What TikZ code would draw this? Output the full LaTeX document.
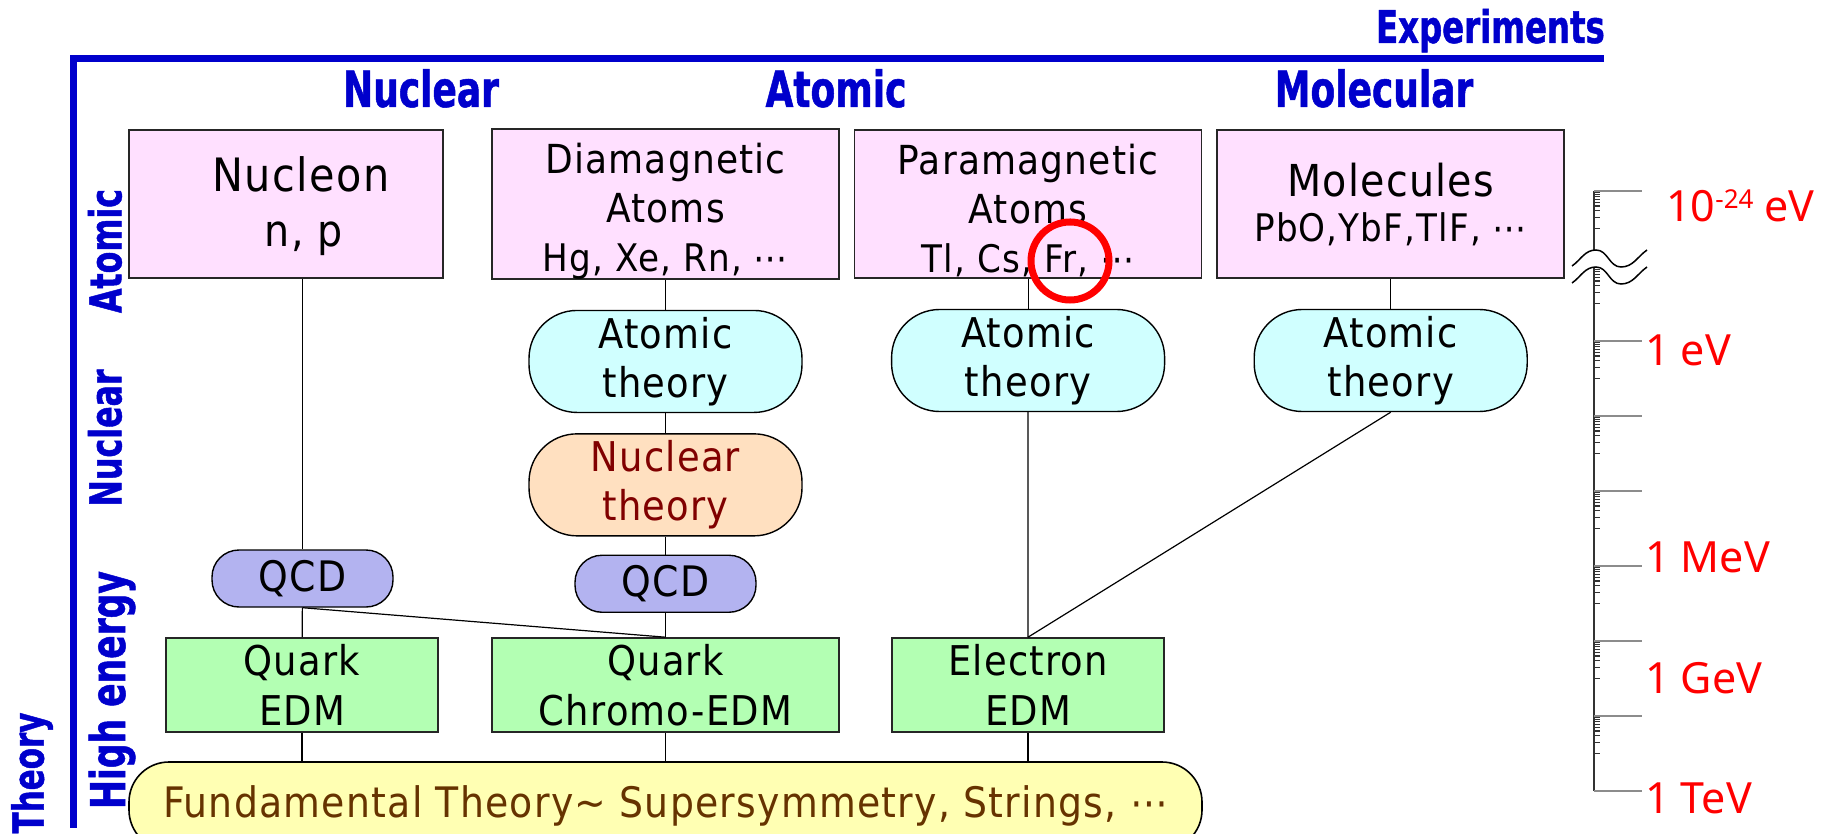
\documentclass[tikz,border=0pt]{standalone}
\usepackage{fontspec}
\setmainfont{DejaVu Sans Condensed}[LetterSpace=3]
\newfontfamily\headfont{DejaVu Sans Condensed Bold}[FakeStretch=0.8,FakeBold=1]
\newfontfamily\evfont{Noto Sans}
\usetikzlibrary{positioning}

\definecolor{pinkfill}{RGB}{255,224,255}
\definecolor{cyanfill}{RGB}{208,255,255}
\definecolor{peachfill}{RGB}{255,224,192}
\definecolor{qcdfill}{RGB}{179,179,240}
\definecolor{greenfill}{RGB}{179,255,179}
\definecolor{yellowfill}{RGB}{255,255,179}
\definecolor{headblue}{RGB}{0,0,204}
\definecolor{nucred}{RGB}{128,0,0}
\definecolor{fundbrown}{RGB}{102,51,0}

\begin{document}
\begin{tikzpicture}[
  x=1pt, y=-1pt,
  atombox/.style={rectangle, draw=black!85, line width=1.6pt, fill=pinkfill,
    minimum height=148pt, inner sep=0pt, align=center},
  theorybox/.style={rectangle, draw, line width=1.4pt, rounded corners=48pt,
    minimum width=273pt, minimum height=102pt, inner sep=0pt, align=center,
    font=\fontsize{41}{49}\selectfont},
  qcdbox/.style={rectangle, draw, line width=1.4pt, rounded corners=27pt, fill=qcdfill,
    minimum width=181pt, minimum height=57pt, inner sep=0pt,
    font=\fontsize{42}{50}\selectfont},
  edmbox/.style={rectangle, draw=black!85, line width=1.6pt, fill=greenfill,
    minimum height=94pt, inner sep=0pt, align=center,
    font=\fontsize{41}{50}\selectfont},
  fundbox/.style={rectangle, draw, line width=1.6pt, rounded corners=40pt, fill=yellowfill,
    minimum width=1073pt, minimum height=88pt, inner sep=0pt, text=fundbrown,
    font=\fontsize{42}{50}\selectfont},
  head/.style={text=headblue, inner sep=0pt, font=\headfont\fontsize{50}{50}\selectfont},
  side/.style={head, rotate=90, font=\headfont\fontsize{44}{44}\selectfont},
  evlabel/.style={text=red, inner sep=0pt, anchor=base west,
    font=\evfont\fontsize{43}{43}\selectfont},
  link/.style={line width=1.2pt},
  axisline/.style={line width=2pt, black!80},
  majortick/.style={line width=1.5pt, black!45},
  minortick/.style={line width=1.3pt, black!80}
]
\clip (0,0) rectangle (1823,834);

\draw[headblue, line width=6.5pt] (1604,58.5) -- (73.5,58.5) -- (73.5,828);
\node[head, anchor=base east, font=\headfont\fontsize{45}{45}\selectfont] (hexp) at (1605,43) {Experiments};
\node[head, anchor=base] (hnuc) at (421,107) {Nuclear};
\node[head, anchor=base] (hatom) at (836,107) {Atomic};
\node[head, anchor=base] (hmol) at (1374,107) {Molecular};

\node[side] (satom) at (105,251) {Atomic};
\node[side] (snuc) at (105,438) {Nuclear};
\node[side, font=\headfont\fontsize{48}{48}\selectfont] (shigh) at (112,690) {High energy};
\node[side, font=\headfont\fontsize{43}{43}\selectfont] (stheory) at (32,773) {Theory};

\node[atombox, minimum width=314pt, font=\fontsize{46}{55}\selectfont] (nucleon) at (286,204) {\rule{0pt}{40pt}\hspace*{30pt}Nucleon\\{\fontsize{44}{55}\selectfont\hspace*{36pt}n, p}};
\node[atombox, minimum width=347pt, font=\fontsize{40}{49}\selectfont] (dia) at (665.5,204) {\rule{0pt}{44pt}Diamagnetic\\Atoms\\{\fontsize{38}{49}\selectfont Hg, Xe, Rn, ⋯}};
\node[atombox, minimum width=347pt, font=\fontsize{40}{49}\selectfont, right=14pt of dia] (para) {\rule{0pt}{44pt}Paramagnetic\\Atoms\\{\fontsize{38}{49}\selectfont Tl, Cs, Fr, ⋯}};
\node[atombox, minimum width=347pt, font=\fontsize{38}{45}\selectfont, right=14pt of para] (mol) {{\fontsize{44}{45}\selectfont Molecules}\\PbO,YbF,TlF, ⋯};

\node[theorybox, fill=cyanfill, below=30pt of dia] (atdia) {Atomic\\theory};
\node[theorybox, fill=peachfill, text=nucred, below=20pt of atdia] (nucth) {Nuclear\\theory};
\node[qcdbox, below=18pt of nucth] (qcdr) {QCD};
\node[edmbox, minimum width=347pt] (qcedm) at (665.5,685) {Quark\\Chromo-EDM};
\node[theorybox, fill=cyanfill, below=30pt of para] (atpara) {Atomic\\theory};
\node[theorybox, fill=cyanfill, below=30pt of mol] (atmol) {Atomic\\theory};
\node[qcdbox] (qcdl) at (302.5,578.5) {QCD};
\node[edmbox, minimum width=272pt] (qedm) at (302,685) {Quark\\EDM};
\node[edmbox, minimum width=272pt] (eedm) at (1028,685) {Electron\\EDM};
\node[fundbox] (fund) at (665.5,806) {Fundamental Theory\textasciitilde{} Supersymmetry, Strings, ⋯};

\draw[link] (qcdl.north |- nucleon.south) -- (qcdl.north);
\draw[link] (qcdl) -- (qedm);
\draw[link] (qcdl.south) -- (qcedm.north);
\draw[link] (dia) -- (atdia);
\draw[link] (atdia) -- (nucth);
\draw[link] (nucth) -- (qcdr);
\draw[link] (qcdr) -- (qcedm);
\draw[link] (para) -- (atpara);
\draw[link] (mol) -- (atmol);
\draw[link] (atpara) -- (eedm);
\draw[link] (atmol.south) -- (eedm.north);
\draw[link] (qedm.south) -- (qedm.south |- fund.north);
\draw[link] (qcedm.south) -- (qcedm.south |- fund.north);
\draw[link] (eedm.south) -- (eedm.south |- fund.north);

\draw[red, line width=7pt] (1070,261) circle[radius=39];

% energy scale
\draw[axisline] (1594,191) -- (1594,250);
\draw[axisline] (1594,267) -- (1594,791);
\foreach \m in {191,341,416,...,791}
  \draw[majortick] (1594,\m) -- (1642,\m);
\foreach \m in {191,266,...,716}
  \foreach \k in {1,...,9}
    \draw[minortick] (1594,{\m+37.5*(1-log10(\k))}) -- ++(6,0);
\draw[line width=1.5pt] (1572,266) to[out=35,in=180] (1596,250) to[out=0,in=180] (1621,267) to[out=0,in=215] (1647,250);
\draw[line width=1.5pt] (1572,283) to[out=35,in=180] (1596,267) to[out=0,in=180] (1621,284) to[out=0,in=215] (1647,267);

\node[evlabel] (e24) at (1666,222) {10{\fontsize{26}{26}\selectfont\raisebox{13pt}{-24}} eV};
\node[evlabel] (eone) at (1645,365) {1 eV};
\node[evlabel] (emev) at (1645,572) {1 MeV};
\node[evlabel] (egev) at (1645,693) {1 GeV};
\node[evlabel] (etev) at (1645,813) {1 TeV};
\end{tikzpicture}
\end{document}
